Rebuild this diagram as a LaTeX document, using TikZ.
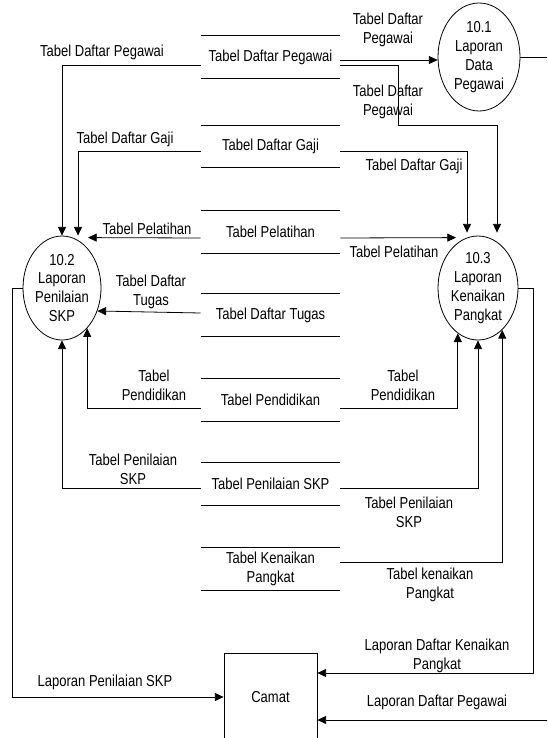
\documentclass[tikz,border=0pt]{standalone}
\usepackage{fontspec}
\setmainfont{Liberation Sans}[FakeStretch=0.82]
\usetikzlibrary{shapes.geometric,arrows.meta,calc}

\begin{document}
\begin{tikzpicture}[x=0.75pt,y=0.75pt,yscale=-1,
	every node/.style={font=\fontsize{11.9}{14.2}\selectfont},
	line/.style={draw=black,line width=0.6pt},
	flow/.style={line,-{Triangle[length=6.5pt,width=6pt]}},
	store/.style={minimum width=104.25pt,minimum height=31.5pt,inner sep=0pt,align=center},
	proc/.style={ellipse,draw,line width=0.6pt,inner sep=0pt,align=center},
	lbl/.style={inner sep=0pt,align=center}]
	\useasboundingbox (0,0) rectangle (547,738);
	
	%Shape: Ellipse [processes]
	\node[proc,minimum width=61.5pt,minimum height=81pt] (p101) at (479,57) {10.1\\Laporan\\Data\\Pegawai};
	\node[proc,minimum width=58.5pt,minimum height=78pt] (p102) at (62,288) {10.2\\Laporan\\Penilaian\\SKP};
	\node[proc,minimum width=60pt,minimum height=78pt] (p103) at (478,288) {10.3\\Laporan\\Kenaikan\\Pangkat};
	%Shape: Rectangle [external entity]
	\node[draw,line width=0.6pt,minimum width=69.75pt,minimum height=66pt] (camat) at (270.5,697) {Camat};
	
	%Data stores
	\node[store] (dp) at (270.5,57) {Tabel Daftar Pegawai};
	\node[store] (dg) at (270.5,146.5) {Tabel Daftar Gaji};
	\node[store] (pl) at (270.5,232) {Tabel Pelatihan};
	\node[store] (dt) at (270.5,315) {Tabel Daftar Tugas};
	\node[store] (pd) at (270.5,400) {Tabel Pendidikan};
	\node[store] (ps) at (270.5,484) {Tabel Penilaian SKP};
	\node[store] (kp) at (270.5,569) {Tabel Kenaikan\\Pangkat};
	\foreach \s in {dp,dg,pl,dt,pd,ps,kp}
		\draw[line] (\s.north west) -- (\s.north east) (\s.south west) -- (\s.south east);
	
	%Straight Lines [Tabel Daftar Pegawai]
	\draw[flow] ($(dp.west)+(0,8)$) -| (p102.north);
	\draw[flow] ($(dp.east)+(0,3)$) -- ($(p101.west)+(0,3)$);
	\draw[flow] ($(dp.east)+(0,8)$) -| (398,125) -| ($(p103.north)+(19,-3)$);
	%Straight Lines [Tabel Daftar Gaji]
	\draw[flow] ($(dg.west)+(0,5)$) -| ($(p102.north)+(16,0)$);
	\draw[flow] ($(dg.east)+(0,5)$) -| ($(p103.north)+(-11,-3)$);
	%Straight Lines [Tabel Pelatihan]
	\draw[flow] ($(pl.west)+(0,6)$) -- ($(p102.north)+(26,2)$);
	\draw[flow] ($(pl.east)+(0,6)$) -- ($(p103.north)+(-22,2)$);
	%Straight Lines [Tabel Daftar Tugas]
	\draw[flow] ($(dt.west)+(0,-2)$) -- (p102.-33);
	%Straight Lines [Tabel Pendidikan]
	\draw[flow] ($(pd.west)+(0,8)$) -| (p102.-58);
	\draw[flow] ($(pd.east)+(0,8)$) -| (p103.-114);
	%Straight Lines [Tabel Penilaian SKP]
	\draw[flow] ($(ps.west)+(0,4)$) -| (p102.south);
	\draw[flow] ($(ps.east)+(0,4)$) -| (p103.south);
	%Straight Lines [Tabel Kenaikan Pangkat]
	\draw[flow] ($(kp.east)+(0,-7)$) -| (p103.-60);
	
	%Straight Lines [laporan ke Camat]
	\coordinate (outA) at (547,57);
	\coordinate (outB) at (547,720);
	\draw[line] (p101.east) -- (outA);
	\draw[flow] (outB) -- ($(camat.east)+(0,23)$);
	\draw[flow] (p103.east) -- ++(15,0) |- ($(camat.east)+(0,-24)$);
	\draw[flow] (p102.west) -- ++(-10,0) |- (camat.west);
	
	% Text Node
	\node[lbl] (l1) at (102,52) {Tabel Daftar Pegawai};
	\node[lbl] (l2) at (388,30) {Tabel Daftar\\Pegawai};
	\node[lbl] (l3) at (388,102) {Tabel Daftar\\Pegawai};
	\node[lbl] (l4) at (125,139) {Tabel Daftar Gaji};
	\node[lbl] (l5) at (414,166) {Tabel Daftar Gaji};
	\node[lbl] (l6) at (147,229) {Tabel Pelatihan};
	\node[lbl] (l7) at (394,252) {Tabel Pelatihan};
	\node[lbl] (l8) at (151,292) {Tabel Daftar\\Tugas};
	\node[lbl] (l9) at (154,385) {Tabel\\Pendidikan};
	\node[lbl] (l10) at (403,385) {Tabel\\Pendidikan};
	\node[lbl] (l11) at (133,469) {Tabel Penilaian\\SKP};
	\node[lbl] (l12) at (409,512) {Tabel Penilaian\\SKP};
	\node[lbl] (l13) at (430,585) {Tabel kenaikan\\Pangkat};
	\node[lbl] (l14) at (437,656) {Laporan Daftar Kenaikan\\Pangkat};
	\node[lbl] (l15) at (437,702) {Laporan Daftar Pegawai};
	\node[lbl] (l16) at (105,682) {Laporan Penilaian SKP};
	
\end{tikzpicture}
\end{document}
